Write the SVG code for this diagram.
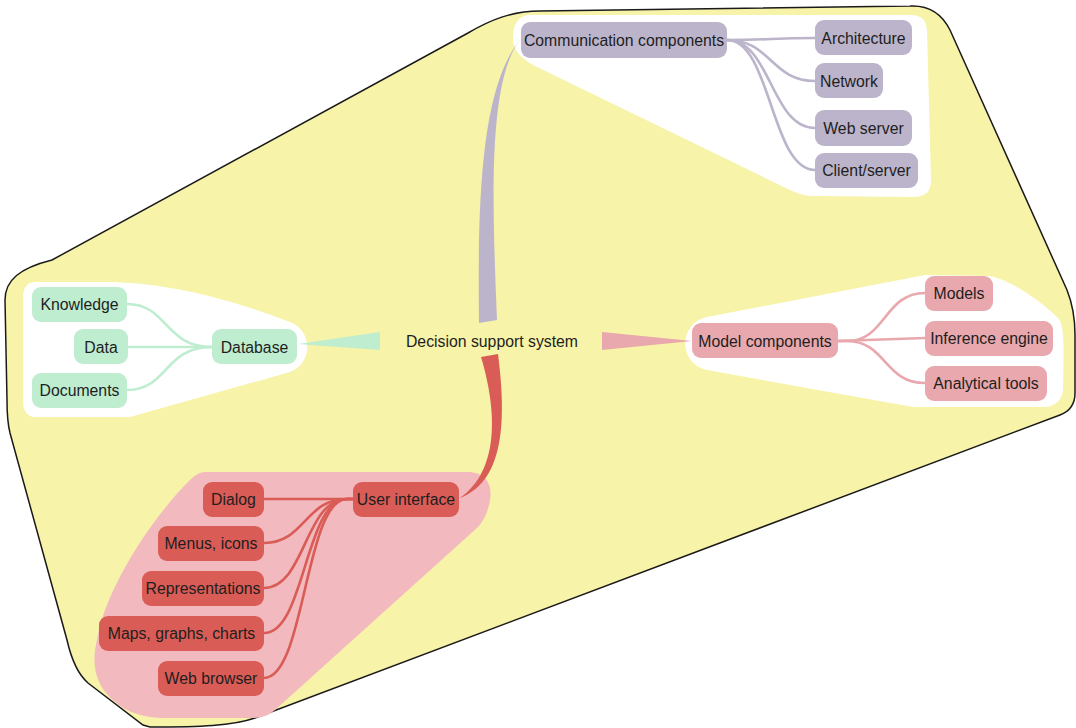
<svg xmlns="http://www.w3.org/2000/svg" width="1076" height="728" viewBox="0 0 1076 728">
  <style>
    text { font-family: "Liberation Sans", Arial, Helvetica, sans-serif; font-size: 15.8px; fill: #1e1e1e; text-anchor: middle; }
    .hull { fill: #ffffff; stroke: none; }
    .comm rect { fill: #bcb4cb; }
    .data rect { fill: #beedd0; }
    .model rect { fill: #e8a8ad; }
    .ui rect { fill: #d95c56; }
    .link { fill: none; stroke-width: 2.6; stroke-linecap: round; }
    .l-comm { stroke: #bcb4cb; }
    .l-data { stroke: #beedd0; }
    .l-model { stroke: #e8a8ad; }
    .l-ui { stroke: #d95c56; }
  </style>

  <!-- outer boundary of the whole system -->
  <path id="system-boundary" d="M 5,300 C 5,280 20,268 52,260 L 468,33 C 490,20 512,11 540,11 L 910,6 C 930,5 942,14 950,30 L 1067,290 C 1073,305 1075,320 1075,335 L 1075,393 C 1075,405 1068,412 1060,415 L 255,718 C 232,726 200,727 150,727 L 143,725 L 88,683 C 80,676 72,662 67,640 L 10,433 C 8,425 7,415 7,400 Z" fill="#f7f3a8" stroke="#1a1a1a" stroke-width="1.5"/>

  <!-- group halos -->
  <path class="hull" d="M 530,15 L 910,15 C 922,15 926,20 927,30 L 931,180 C 931,192 925,197 913,197 L 815,196 C 805,196 800,194 790,190 L 535,66 C 520,58 513,50 513,38 C 513,25 518,15 530,15 Z"/>
  <path class="hull" d="M 35,282 L 110,282 C 160,283 220,295 290,322 C 312,330 314,362 290,372 L 130,417 L 35,417 C 27,417 23,410 23,402 L 23,297 C 23,288 27,282 35,282 Z"/>
  <path class="hull" d="M 707,317 L 925,275 L 990,276 C 1010,280 1040,300 1058,318 C 1064,326 1064,340 1063,390 C 1062,400 1056,406 1045,407 L 913,407 L 707,370 C 678,364 678,323 707,317 Z"/>
  <path fill="#f2b9bf" d="M 205,472 L 468,472 C 485,472 493,484 490,500 C 488,512 484,520 478,527 L 275,710 C 268,716 262,718 250,718 L 165,718 C 140,718 120,710 106,693 C 94,678 92,660 97,640 C 105,590 150,520 190,480 C 195,475 200,472 205,472 Z"/>

  <g id="connectors">
    <!-- tapered trunks from the central topic -->
    <path d="M 479,323 C 478,220 478,90 520,40 C 488,80 492,200 497,320 Z" fill="#bcb4cb"/>
    <path d="M 481,357 C 497,410 500,470 460,498 C 508,480 505,410 498,354 Z" fill="#d95c56"/>
    <path d="M 298,344 L 380,332 L 380,350 Z" fill="#beedd0"/>
    <path d="M 602,332 L 692,341 L 602,350 Z" fill="#e8a8ad"/>

    <!-- communication branches -->
    <path class="link l-comm" d="M 727,40 C 771,40 771,38 815,38"/>
    <path class="link l-comm" d="M 727,40 C 771,40 771,81 815,81"/>
    <path class="link l-comm" d="M 727,40 C 771,40 771,128 815,128"/>
    <path class="link l-comm" d="M 727,40 C 771,40 771,170 815,170"/>

    <!-- database branches -->
    <path class="link l-data" d="M 127,304 C 168,304 164,347 212,347"/>
    <path class="link l-data" d="M 128,347 L 212,347"/>
    <path class="link l-data" d="M 127,390 C 168,390 164,347 212,347"/>

    <!-- model branches -->
    <path class="link l-model" d="M 838,341 L 847,341 C 886,341 884,293 925,293"/>
    <path class="link l-model" d="M 838,341 L 925,338"/>
    <path class="link l-model" d="M 838,341 L 847,341 C 886,341 884,383 925,383"/>

    <!-- user interface branches -->
    <path class="link l-ui" d="M 264,499 L 353,499"/>
    <path class="link l-ui" d="M 264,543 C 305,543 305,499 347,499 L 353,499"/>
    <path class="link l-ui" d="M 264,588 C 305,588 305,499 347,499 L 353,499"/>
    <path class="link l-ui" d="M 264,633 C 305,633 305,499 347,499 L 353,499"/>
    <path class="link l-ui" d="M 264,678 C 305,678 305,499 347,499 L 353,499"/>
  </g>

  <g id="decision-support-system">
    <text x="492" y="346.5">Decision support system</text>
  </g>

  <g id="communication-components" class="comm">
    <rect x="521" y="22" width="206" height="36" rx="9"/>
    <text x="624" y="45.5">Communication components</text>
  </g>
  <g id="architecture" class="comm">
    <rect x="815" y="20" width="97" height="35" rx="9"/>
    <text x="863.5" y="43.5">Architecture</text>
  </g>
  <g id="network" class="comm">
    <rect x="815" y="63" width="68" height="35" rx="9"/>
    <text x="849" y="86.5">Network</text>
  </g>
  <g id="web-server" class="comm">
    <rect x="815" y="110" width="97" height="36" rx="9"/>
    <text x="863.5" y="133.5">Web server</text>
  </g>
  <g id="client-server" class="comm">
    <rect x="815" y="153" width="103" height="35" rx="9"/>
    <text x="866.5" y="176">Client/server</text>
  </g>

  <g id="database" class="data">
    <rect x="212" y="329" width="85" height="35" rx="9"/>
    <text x="254.5" y="352.5">Database</text>
  </g>
  <g id="knowledge" class="data">
    <rect x="32" y="287" width="95" height="35" rx="9"/>
    <text x="79.5" y="310">Knowledge</text>
  </g>
  <g id="data" class="data">
    <rect x="74" y="329" width="54" height="35" rx="9"/>
    <text x="101" y="352.5">Data</text>
  </g>
  <g id="documents" class="data">
    <rect x="32" y="373" width="95" height="35" rx="9"/>
    <text x="79.5" y="396">Documents</text>
  </g>

  <g id="model-components" class="model">
    <rect x="692" y="323" width="146" height="35" rx="9"/>
    <text x="765" y="346.5">Model components</text>
  </g>
  <g id="models" class="model">
    <rect x="925" y="276" width="68" height="35" rx="9"/>
    <text x="959" y="299">Models</text>
  </g>
  <g id="inference-engine" class="model">
    <rect x="925" y="321" width="128" height="35" rx="9"/>
    <text x="989" y="344">Inference engine</text>
  </g>
  <g id="analytical-tools" class="model">
    <rect x="925" y="366" width="122" height="35" rx="9"/>
    <text x="986" y="389">Analytical tools</text>
  </g>

  <g id="user-interface" class="ui">
    <rect x="353" y="482" width="106" height="35" rx="9"/>
    <text x="406" y="505">User interface</text>
  </g>
  <g id="dialog" class="ui">
    <rect x="203" y="482" width="61" height="35" rx="9"/>
    <text x="233.5" y="505">Dialog</text>
  </g>
  <g id="menus-icons" class="ui">
    <rect x="158" y="526" width="106" height="35" rx="9"/>
    <text x="211" y="549">Menus, icons</text>
  </g>
  <g id="representations" class="ui">
    <rect x="142" y="571" width="122" height="35" rx="9"/>
    <text x="203" y="594">Representations</text>
  </g>
  <g id="maps-graphs-charts" class="ui">
    <rect x="99" y="616" width="165" height="35" rx="9"/>
    <text x="181.5" y="639">Maps, graphs, charts</text>
  </g>
  <g id="web-browser" class="ui">
    <rect x="158" y="661" width="106" height="35" rx="9"/>
    <text x="211" y="684">Web browser</text>
  </g>
</svg>
